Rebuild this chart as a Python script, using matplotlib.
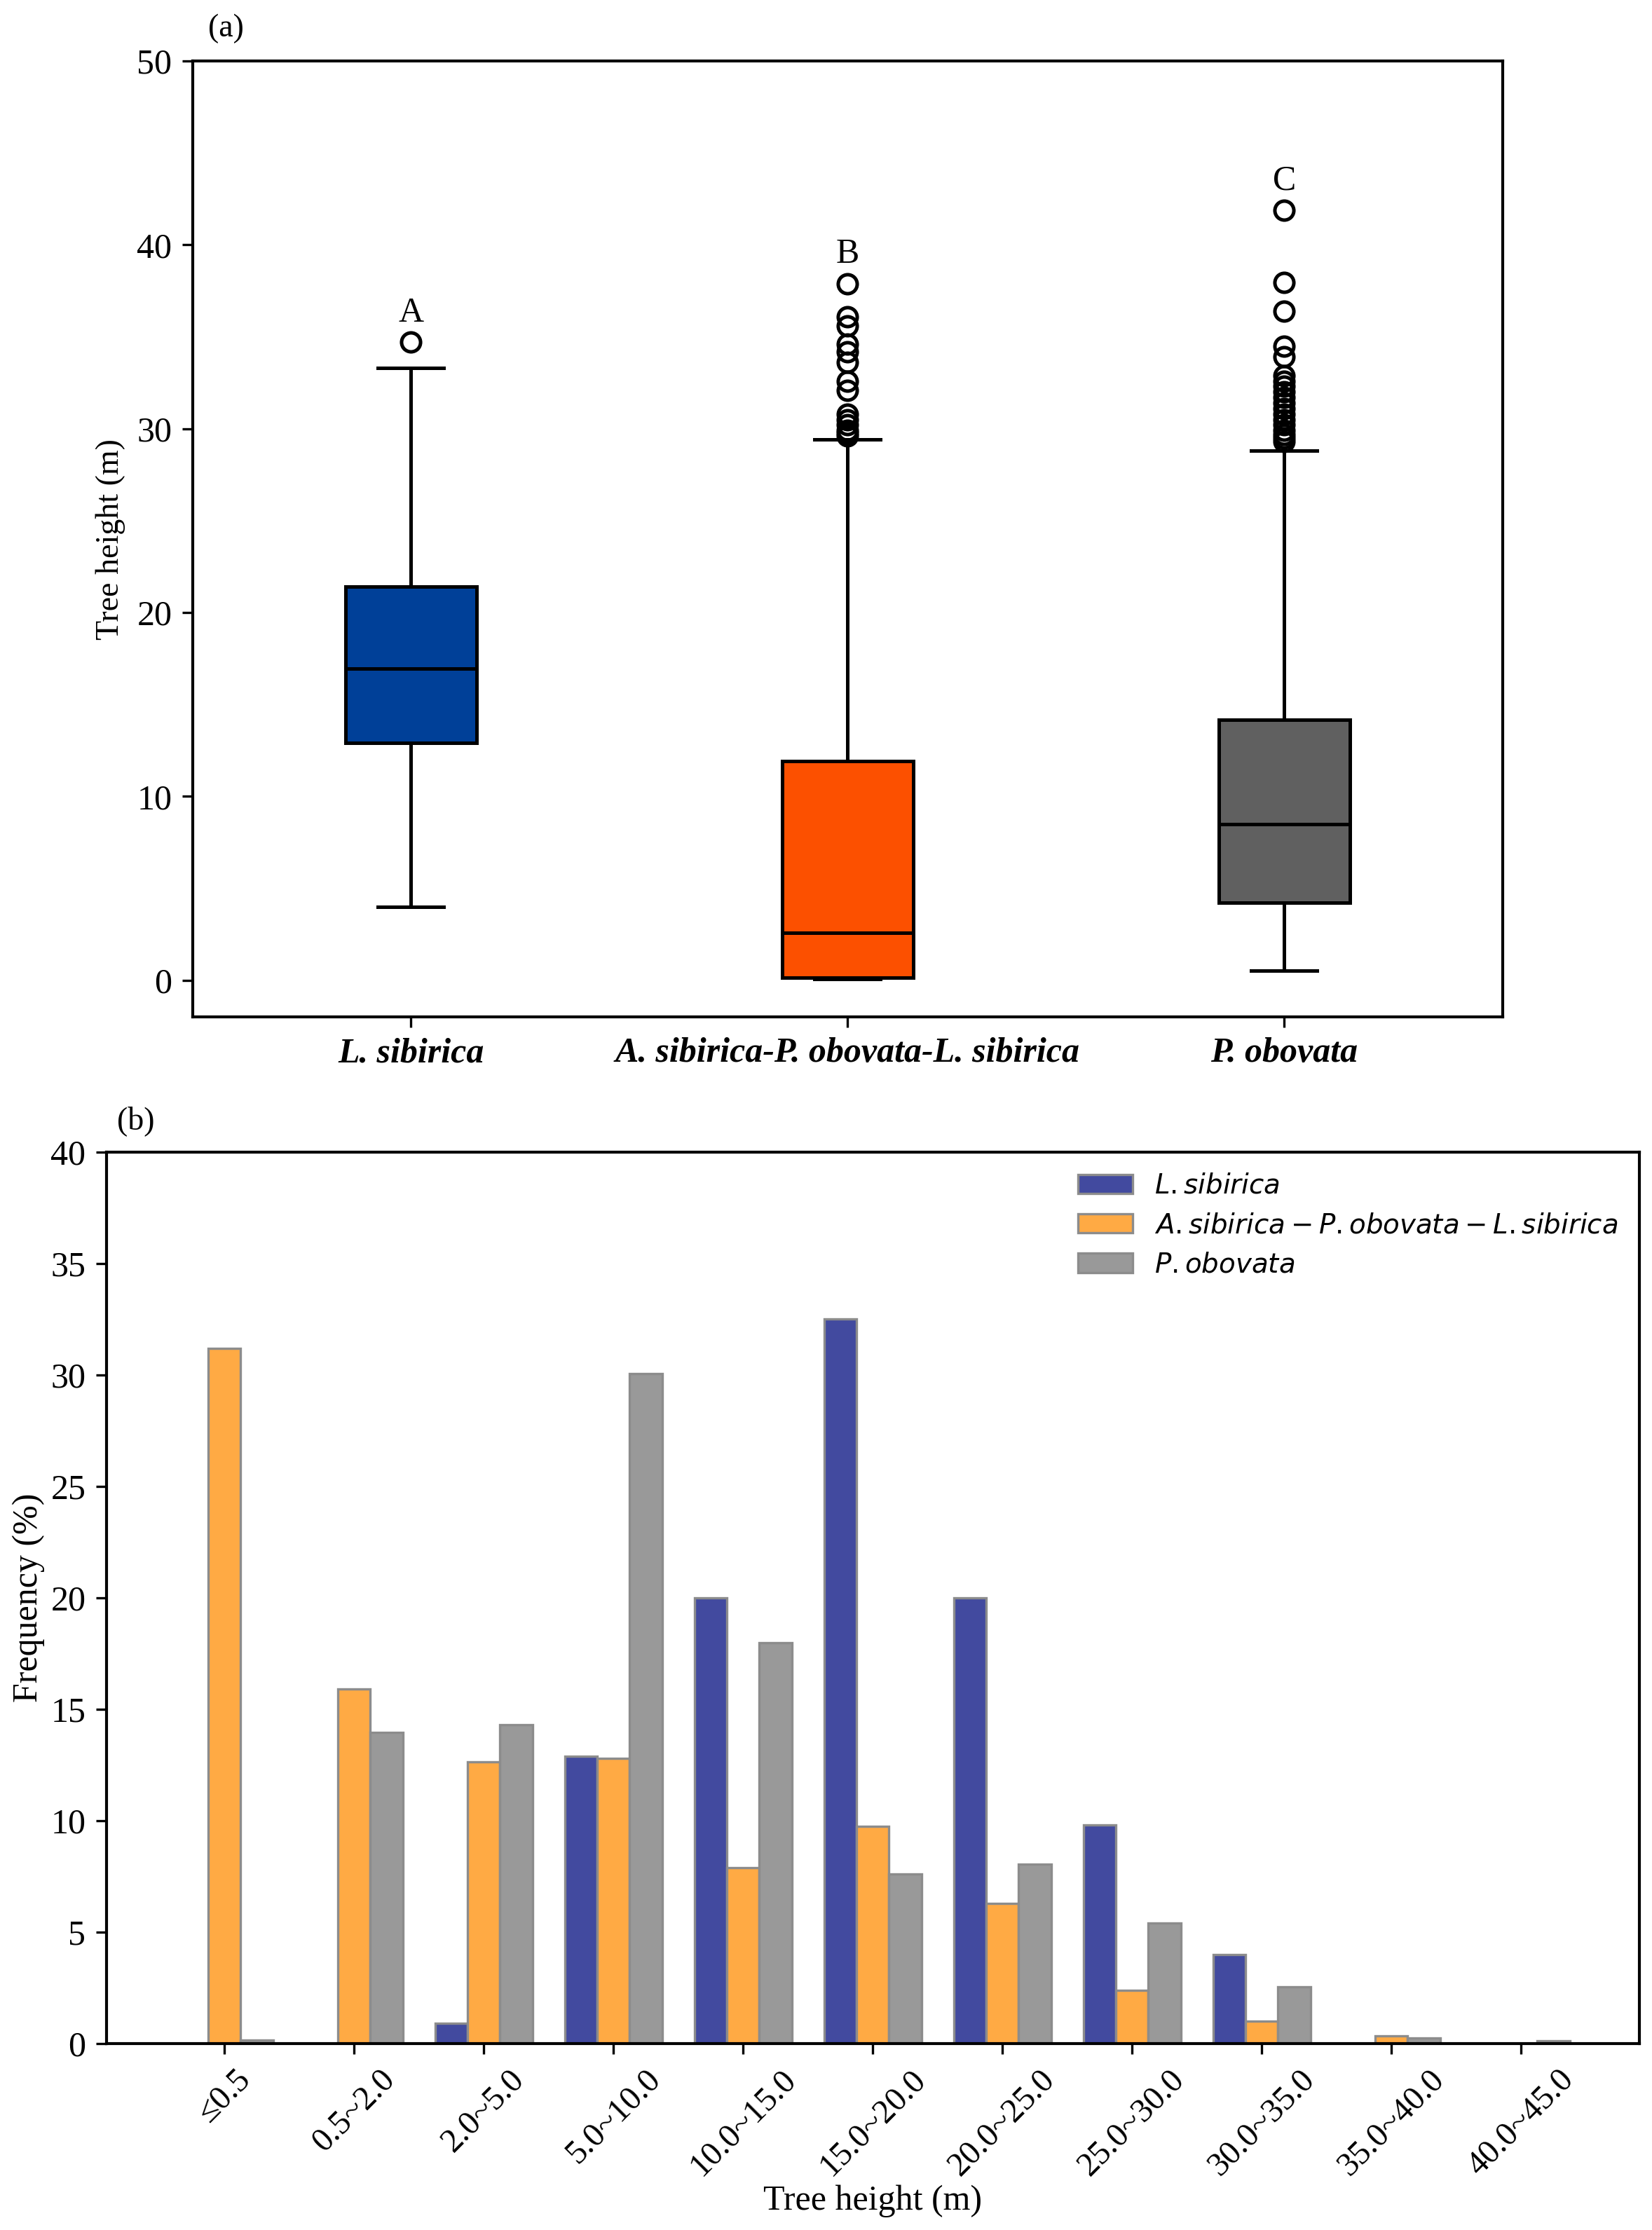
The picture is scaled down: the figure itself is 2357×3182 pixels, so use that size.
import matplotlib.pyplot as plt
import numpy as np

plt.rcParams['font.family'] = ['Liberation Serif', 'DejaVu Serif']
plt.rcParams['mathtext.fontset'] = 'dejavusans'

# panel (a): box summaries
species = ['L. sibirica', 'A. sibirica-P. obovata-L. sibirica', 'P. obovata']
q1 = [12.9, 0.14, 4.2]
med = [16.95, 2.58, 8.5]
q3 = [21.4, 11.9, 14.15]
whislo = [4.0, 0.07, 0.5]
whishi = [33.3, 29.4, 28.8]
fliers_ls = [34.7]
fliers_mix = [29.6, 29.75, 29.9, 30.2, 30.5, 30.8, 32.1, 32.6, 33.6, 34.2,
              34.6, 35.6, 36.1, 37.9]
fliers_po = [29.3, 29.5, 29.7, 29.9, 30.2, 30.5, 30.8, 31.1, 31.4, 31.7,
             32.0, 32.3, 32.6, 32.9, 33.9, 34.5, 36.4, 37.95, 41.9]
letters = ['A', 'B', 'C']
box_colors = ['#004098', '#fc5000', '#606060']

# panel (b): frequency (%) per height class
classes = ['≤0.5', '0.5~2.0', '2.0~5.0', '5.0~10.0', '10.0~15.0', '15.0~20.0',
           '20.0~25.0', '25.0~30.0', '30.0~35.0', '35.0~40.0', '40.0~45.0']
freq_ls = [0, 0, 0.9, 12.9, 20.0, 32.5, 20.0, 9.8, 4.0, 0, 0]
freq_mix = [31.2, 15.9, 12.65, 12.8, 7.9, 9.75, 6.3, 2.4, 1.0, 0.35, 0]
freq_po = [0.15, 13.95, 14.3, 30.05, 18.0, 7.6, 8.05, 5.4, 2.55, 0.25, 0.12]
legend_names = [r'$L.sibirica$', r'$A.sibirica-P.obovata-L.sibirica$', r'$P.obovata$']
bar_colors = ['#424a9f', '#ffaa44', '#999999']

fig = plt.figure(figsize=(2357 / 300, 3182 / 300), dpi=300)

# ---------- (a) boxplot ----------
ax1 = fig.add_axes([0.1165, 0.544, 0.793, 0.4286])
all_fliers = [fliers_ls, fliers_mix, fliers_po]
stats = []
for i in range(3):
    stats.append(dict(q1=q1[i], med=med[i], q3=q3[i], whislo=whislo[i],
                      whishi=whishi[i], fliers=all_fliers[i], label=species[i]))
bp = ax1.bxp(stats, positions=[1, 2, 3], widths=0.3, patch_artist=True,
             boxprops=dict(linewidth=1.2, edgecolor='black'),
             medianprops=dict(color='black', linewidth=1.2),
             whiskerprops=dict(linewidth=1.2),
             capprops=dict(linewidth=1.2),
             flierprops=dict(marker='o', markerfacecolor='none',
                             markeredgecolor='black', markersize=6.5,
                             markeredgewidth=1.2))
for patch, c in zip(bp['boxes'], box_colors):
    patch.set_facecolor(c)
for i in range(3):
    ax1.text(i + 1, max(all_fliers[i]) + 0.7, letters[i], ha='center',
             va='bottom', fontsize=12)
ax1.set_xlim(0.5, 3.5)
ax1.set_ylim(-2, 50)
ax1.set_yticks([0, 10, 20, 30, 40, 50])
ax1.set_xticks([1, 2, 3])
ax1.set_xticklabels(species, fontsize=12, fontweight='bold', fontstyle='italic')
ax1.tick_params(axis='y', labelsize=12)
ax1.set_ylabel('Tree height (m)', fontsize=11)
ax1.text(0.012, 1.034, '(a)', transform=ax1.transAxes, fontsize=11,
         ha='left', va='center')
for s in ax1.spines.values():
    s.set_linewidth(1.0)

# ---------- (b) grouped bars ----------
ax2 = fig.add_axes([0.0643, 0.0836, 0.9281, 0.3998])
x = np.arange(len(classes))
w = 0.25
series = [freq_ls, freq_mix, freq_po]
for k in range(3):
    ax2.bar(x + (k - 1) * w, series[k], w, color=bar_colors[k],
            edgecolor='#8c8c8c', linewidth=0.8, label=legend_names[k])
ax2.set_ylim(0, 40)
ax2.set_yticks(np.arange(0, 41, 5))
ax2.set_xticks(x)
ax2.set_xticklabels(classes, rotation=45, fontsize=11.5)
ax2.tick_params(axis='y', labelsize=12)
ax2.set_xlabel('Tree height (m)', fontsize=12, labelpad=1)
ax2.set_ylabel('Frequency (%)', fontsize=12, labelpad=2)
ax2.legend(loc='upper right', frameon=False, fontsize=9.3,
           borderaxespad=0.4)
ax2.text(0.007, 1.035, '(b)', transform=ax2.transAxes, fontsize=11,
         ha='left', va='center')
for s in ax2.spines.values():
    s.set_linewidth(1.0)

fig.savefig('out.png', dpi=300)
